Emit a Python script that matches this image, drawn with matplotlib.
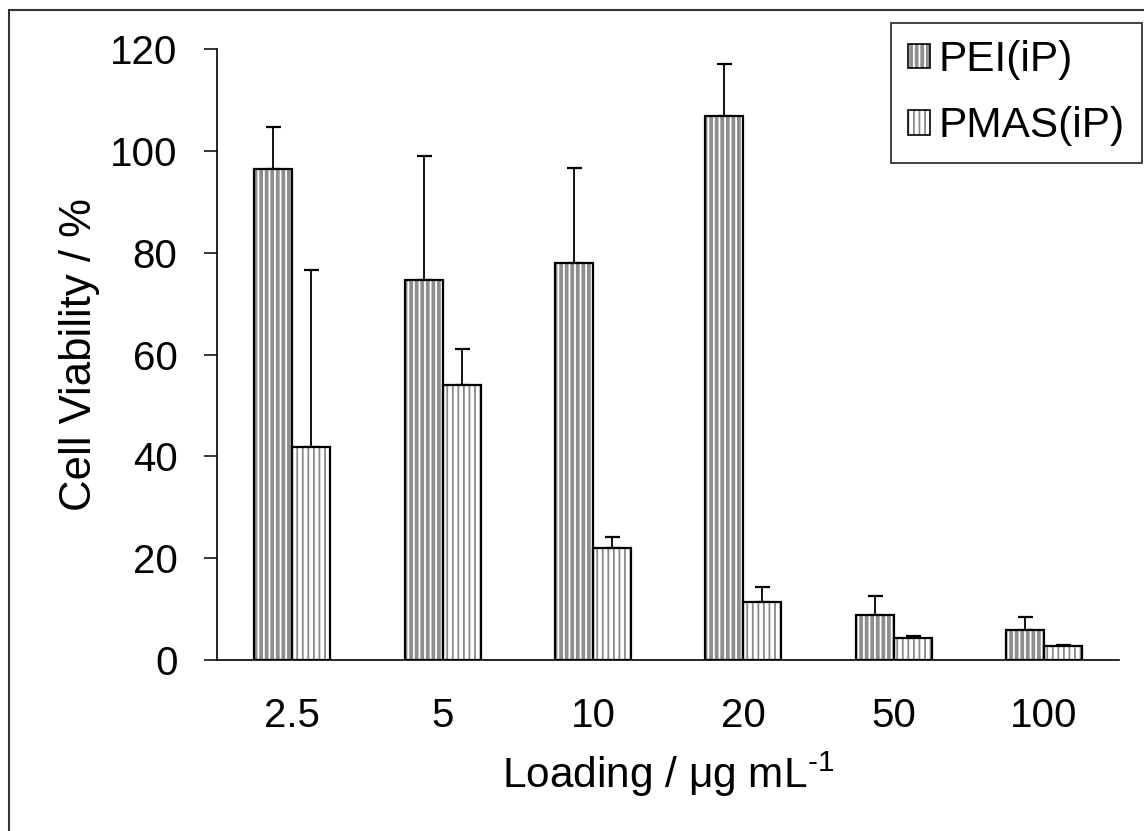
import numpy as np
import matplotlib
matplotlib.use("Agg")
import matplotlib.pyplot as plt
from matplotlib.patches import Rectangle, Patch
from matplotlib.colors import to_rgba

plt.rcParams['font.family'] = ['Liberation Sans', 'DejaVu Sans']
plt.rcParams['mathtext.fontset'] = 'custom'
plt.rcParams['mathtext.rm'] = 'Liberation Sans'
plt.rcParams['mathtext.default'] = 'regular'
plt.rcParams['hatch.linewidth'] = 1.3

# data
loadings = ['2.5', '5', '10', '20', '50', '100']
pei = [96.5, 74.6, 77.9, 106.8, 8.9, 5.8]
pei_err = [8.1, 24.4, 18.8, 10.2, 3.7, 2.7]
pmas = [41.9, 54.1, 22.0, 11.4, 4.3, 2.8]
pmas_err = [34.7, 6.9, 2.2, 3.0, 0.4, 0.2]
series_names = ['PEI(iP)', 'PMAS(iP)']

fig = plt.figure(figsize=(11.44, 8.31), dpi=100)
ax = fig.add_axes([0.1897, 0.2058, 0.9783 - 0.1897, 0.941 - 0.2058])

x = np.arange(len(loadings))
w = 0.253

# PEI: grey with white stripes
ax.bar(x - w / 2, pei, w, color='#8e8e8e', edgecolor='white', hatch='|||',
       linewidth=0, zorder=2)
ax.bar(x - w / 2, pei, w, fill=False, edgecolor='black', linewidth=1.6, zorder=3)
# PMAS: white with grey stripes
ax.bar(x + w / 2, pmas, w, color='white', edgecolor='#8a8a8a', hatch='|||',
       linewidth=0, zorder=2)
ax.bar(x + w / 2, pmas, w, fill=False, edgecolor='black', linewidth=1.6, zorder=3)

zeros = np.zeros(len(x))
ax.errorbar(x - w / 2, pei, yerr=[zeros, pei_err], fmt='none', ecolor='black',
            elinewidth=1.3, capsize=5.4, capthick=1.6, zorder=1)
ax.errorbar(x + w / 2, pmas, yerr=[zeros, pmas_err], fmt='none', ecolor='black',
            elinewidth=1.3, capsize=5.4, capthick=1.6, zorder=1)

ax.set_xlim(-0.5, len(x) - 0.5)
ax.set_ylim(0, 120)
ax.set_yticks(np.arange(0, 121, 20))
ax.set_xticks(x)
ax.set_xticklabels(loadings)
ax.tick_params(axis='y', length=9.4, width=1.1, pad=19, labelsize=29, direction='out')
ax.tick_params(axis='x', length=0, pad=27, labelsize=29)
for s in ['top', 'right']:
    ax.spines[s].set_visible(False)
for s in ['left', 'bottom']:
    ax.spines[s].set_linewidth(1.2)

ax.set_ylabel('Cell Viability / %', fontsize=31.5, labelpad=7)
ax.set_xlabel('Loading / μg mL$^{\\text{-1}}$', fontsize=30.5, labelpad=10)

h_pei = Patch(facecolor='#8e8e8e', edgecolor='black', hatch='|||', linewidth=1.2)
h_pei._hatch_color = to_rgba('white')
h_pmas = Patch(facecolor='white', edgecolor='black', hatch='|||', linewidth=1.2)
h_pmas._hatch_color = to_rgba('#8a8a8a')
leg = fig.legend([h_pei, h_pmas], series_names, loc='upper right',
                 bbox_to_anchor=(1142 / 1144, 1 - 23 / 831),
                 fontsize=30.5, frameon=True, fancybox=False, shadow=False,
                 handlelength=0.52, handleheight=0.52, handletextpad=0.2,
                 borderpad=0.4, labelspacing=0.62, borderaxespad=0)
leg.get_frame().set_edgecolor('black')
leg.get_frame().set_linewidth(1.3)

# outer frame (cropped on right and bottom in the reference)
fig.patches.append(Rectangle((9 / 1144, -0.05), 1.2, 1 - 10 / 831 + 0.05,
                             transform=fig.transFigure, fill=False,
                             edgecolor='#333333', linewidth=1.5))

fig.savefig('out.png', dpi=100)
